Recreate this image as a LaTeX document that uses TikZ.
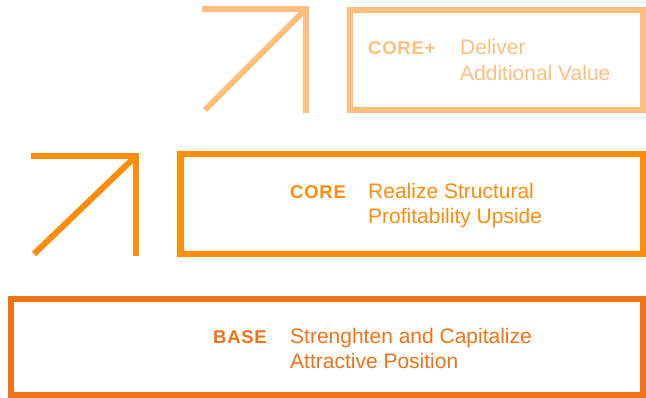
\documentclass[tikz,border=0pt]{standalone}
\usepackage{fontspec}
\setmainfont{Liberation Sans}
\newfontfamily\labfont[LetterSpace=4]{Liberation Sans}
\definecolor{cplus}{RGB}{255,190,125}
\definecolor{ccore}{RGB}{255,140,10}
\definecolor{cbase}{RGB}{242,114,22}
\begin{document}
\begin{tikzpicture}[x=1pt,y=-1pt,
  tier/.style={draw, line width=6.5pt, anchor=north west, inner sep=0pt, outer sep=0pt},
  lab/.style={anchor=base west, font=\labfont\fontsize{18.5}{23}\selectfont\bfseries, inner sep=0pt},
  desc/.style={anchor=base west, font=\fontsize{21}{25}\selectfont, inner sep=0pt},
  arr/.style={line width=6pt, line cap=butt, line join=miter}]
\useasboundingbox (0,0) rectangle (646,398);
% top tier
\node[tier, draw=cplus, minimum width=293pt, minimum height=100pt] (boxplus) at (350,10) {};
\node[lab, text=cplus] (lplus) at (368,55) {CORE+};
\node[desc, text=cplus] (dplusa) at (460,55) {Deliver};
\node[desc, text=cplus] (dplusb) at (460,81) {Additional Value};
\draw[arr, draw=cplus] (202,9) -- (306,9) -- (306,113);
\draw[arr, draw=cplus] (205,110) -- (305,10);
% core tier
\node[tier, draw=ccore, minimum width=462.5pt, minimum height=100pt] (boxcore) at (180.5,154) {};
\node[lab, text=ccore] (lcore) at (290,199) {CORE};
\node[desc, text=ccore] (dcorea) at (368,199) {Realize Structural};
\node[desc, text=ccore] (dcoreb) at (368,224) {Profitability Upside};
\draw[arr, draw=ccore] (31,156) -- (136,156) -- (136,256);
\draw[arr, draw=ccore] (34,254) -- (135,157);
% base tier
\node[tier, draw=cbase, minimum width=632pt, minimum height=96pt] (boxbase) at (11,299) {};
\node[lab, text=cbase] (lbase) at (213,344) {BASE};
\node[desc, text=cbase] (dbasea) at (290,344) {Strenghten and Capitalize};
\node[desc, text=cbase] (dbaseb) at (290,369) {Attractive Position};
\end{tikzpicture}
\end{document}
